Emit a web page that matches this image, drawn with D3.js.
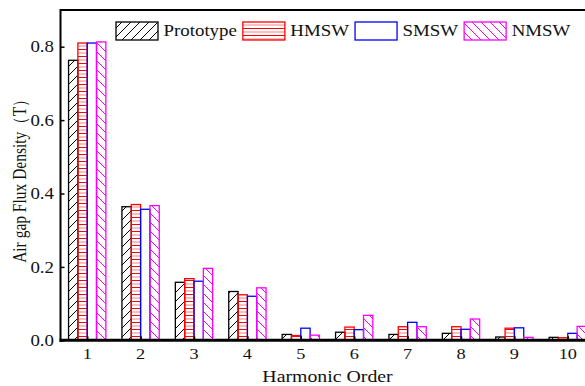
<!DOCTYPE html>
<html>
<head>
<meta charset="utf-8">
<script src="https://cdn.jsdelivr.net/npm/d3@7"></script>
<style>
  html, body { margin: 0; padding: 0; background: #fff; overflow: hidden; }
  svg { display: block; }
  text { font-family: "Liberation Serif", "Times New Roman", serif; fill: #111; }
</style>
</head>
<body>
<svg id="chart" width="585" height="386"></svg>
<script>
// Harmonic amplitudes of the air-gap flux density (T)
const harmonics = [1, 2, 3, 4, 5, 6, 7, 8, 9, 10];
const prototype = [0.763, 0.364, 0.158, 0.133, 0.016, 0.022, 0.016, 0.019, 0.009, 0.008];
const hmsw      = [0.810, 0.370, 0.168, 0.124, 0.013, 0.036, 0.037, 0.037, 0.033, 0.007];
const smsw      = [0.810, 0.357, 0.161, 0.120, 0.033, 0.029, 0.049, 0.030, 0.034, 0.019];
const nmsw      = [0.813, 0.367, 0.196, 0.143, 0.014, 0.068, 0.037, 0.058, 0.008, 0.038];
const seriesNames = ["Prototype", "HMSW", "SMSW", "NMSW"];
const yTicks = [0.0, 0.2, 0.4, 0.6, 0.8];

const seriesValues = [prototype, hmsw, smsw, nmsw];
const colors = ["#000000", "#ff0000", "#0000ff", "#ff00ff"];
const fills = ["url(#hatchFwd)", "url(#hatchHoriz)", "none", "url(#hatchBack)"];
const stretch = 1.18; // glyphs are drawn slightly wide

const svg = d3.select("#chart");
const plotL = 60.5, plotR = 594.5, plotT = 10, plotB = 340.3;

const x = d3.scaleLinear().domain([0.5, 10.5]).range([plotL, plotR]);
const y = d3.scaleLinear().domain([0, 0.9]).range([plotB, plotT]);

// hatch patterns
const defs = svg.append("defs");
const pf = defs.append("pattern").attr("id", "hatchFwd")
  .attr("patternUnits", "userSpaceOnUse").attr("width", 9).attr("height", 9);
pf.append("path").attr("d", "M0,9 L9,0 M-2,2 L2,-2 M7,11 L11,7")
  .attr("stroke", "#000").attr("stroke-width", 1);
const pb = defs.append("pattern").attr("id", "hatchBack")
  .attr("patternUnits", "userSpaceOnUse").attr("width", 9).attr("height", 9);
pb.append("path").attr("d", "M0,0 L9,9 M-2,7 L2,11 M7,-2 L11,2")
  .attr("stroke", "#ff00ff").attr("stroke-width", 1);
const ph = defs.append("pattern").attr("id", "hatchHoriz")
  .attr("patternUnits", "userSpaceOnUse").attr("width", 10).attr("height", 7);
ph.append("line").attr("x1", 0).attr("x2", 10).attr("y1", 0.5).attr("y2", 0.5)
  .attr("stroke", "#ff0000").attr("stroke-width", 1);
ph.append("line").attr("x1", 0).attr("x2", 10).attr("y1", 4).attr("y2", 4)
  .attr("stroke", "#ff0000").attr("stroke-opacity", 0.5).attr("stroke-width", 1);

// bars
const band = 37.3;
const bw = band / 4;
seriesValues.forEach((vals, si) => {
  svg.append("g").selectAll("rect").data(vals).join("rect")
    .attr("x", (d, i) => x(harmonics[i]) - band / 2 + si * bw)
    .attr("y", d => y(d))
    .attr("width", bw)
    .attr("height", d => y(0) - y(d))
    .attr("fill", fills[si])
    .attr("stroke", colors[si])
    .attr("stroke-width", 1.3);
});

// axes
const yAxis = d3.axisLeft(y).tickValues(yTicks).tickSize(-4).tickFormat("");
const gy = svg.append("g").attr("transform", `translate(${plotL},0)`).call(yAxis);
gy.select(".domain").remove();
gy.selectAll(".tick line").attr("stroke", "#000").attr("stroke-width", 1.5);
yTicks.forEach(t => {
  svg.append("g").attr("transform", `translate(${plotL - 6.5},${y(t)}) scale(${stretch},1)`)
    .append("text").attr("text-anchor", "end").attr("dy", "0.36em")
    .style("font-size", "16px").text(d3.format(".1f")(t));
});

const xAxis = d3.axisBottom(x).tickValues(harmonics).tickSize(-4).tickFormat("");
const gx = svg.append("g").attr("transform", `translate(0,${plotB})`).call(xAxis);
gx.select(".domain").remove();
gx.selectAll(".tick line").attr("stroke", "#000").attr("stroke-width", 1.5);
harmonics.forEach(h => {
  svg.append("g").attr("transform", `translate(${x(h)},358.5) scale(${stretch},1)`)
    .append("text").attr("text-anchor", "middle")
    .style("font-size", "15.5px").text(h);
});

// frame
svg.append("line").attr("x1", plotL).attr("x2", plotR).attr("y1", plotT).attr("y2", plotT)
  .attr("stroke", "#000").attr("stroke-width", 2);
svg.append("line").attr("x1", plotR).attr("x2", plotR).attr("y1", plotT).attr("y2", plotB)
  .attr("stroke", "#000").attr("stroke-width", 2);
svg.append("line").attr("x1", plotL).attr("x2", plotL).attr("y1", plotT - 1).attr("y2", plotB + 1.5)
  .attr("stroke", "#000").attr("stroke-width", 2);
svg.append("line").attr("x1", plotL - 1).attr("x2", plotR).attr("y1", plotB).attr("y2", plotB)
  .attr("stroke", "#000").attr("stroke-width", 3);

// axis titles
svg.append("g").attr("transform", `translate(${(plotL + plotR) / 2},382) scale(${stretch},1)`)
  .append("text").attr("text-anchor", "middle").style("font-size", "16.8px")
  .text("Harmonic Order");
svg.append("g").attr("transform", `translate(26,177) scale(${stretch},1) rotate(-90)`)
  .append("text").attr("text-anchor", "middle").style("font-size", "15.5px")
  .text("Air gap Flux Density（T）");

// legend
let lx = 116;
const ly = 22, sw = 42, sh = 18;
seriesNames.forEach((name, i) => {
  svg.append("rect").attr("x", lx).attr("y", ly).attr("width", sw).attr("height", sh)
    .attr("fill", fills[i]).attr("stroke", colors[i]).attr("stroke-width", 1.3);
  const g = svg.append("g").attr("transform", `translate(${lx + sw + 5.5},${ly + sh / 2 + 5.3}) scale(${stretch},1)`);
  const t = g.append("text").style("font-size", "16px").text(name);
  const w = t.node().getComputedTextLength() * stretch;
  lx += sw + 5.5 + w + 6;
});
</script>
</body>
</html>
